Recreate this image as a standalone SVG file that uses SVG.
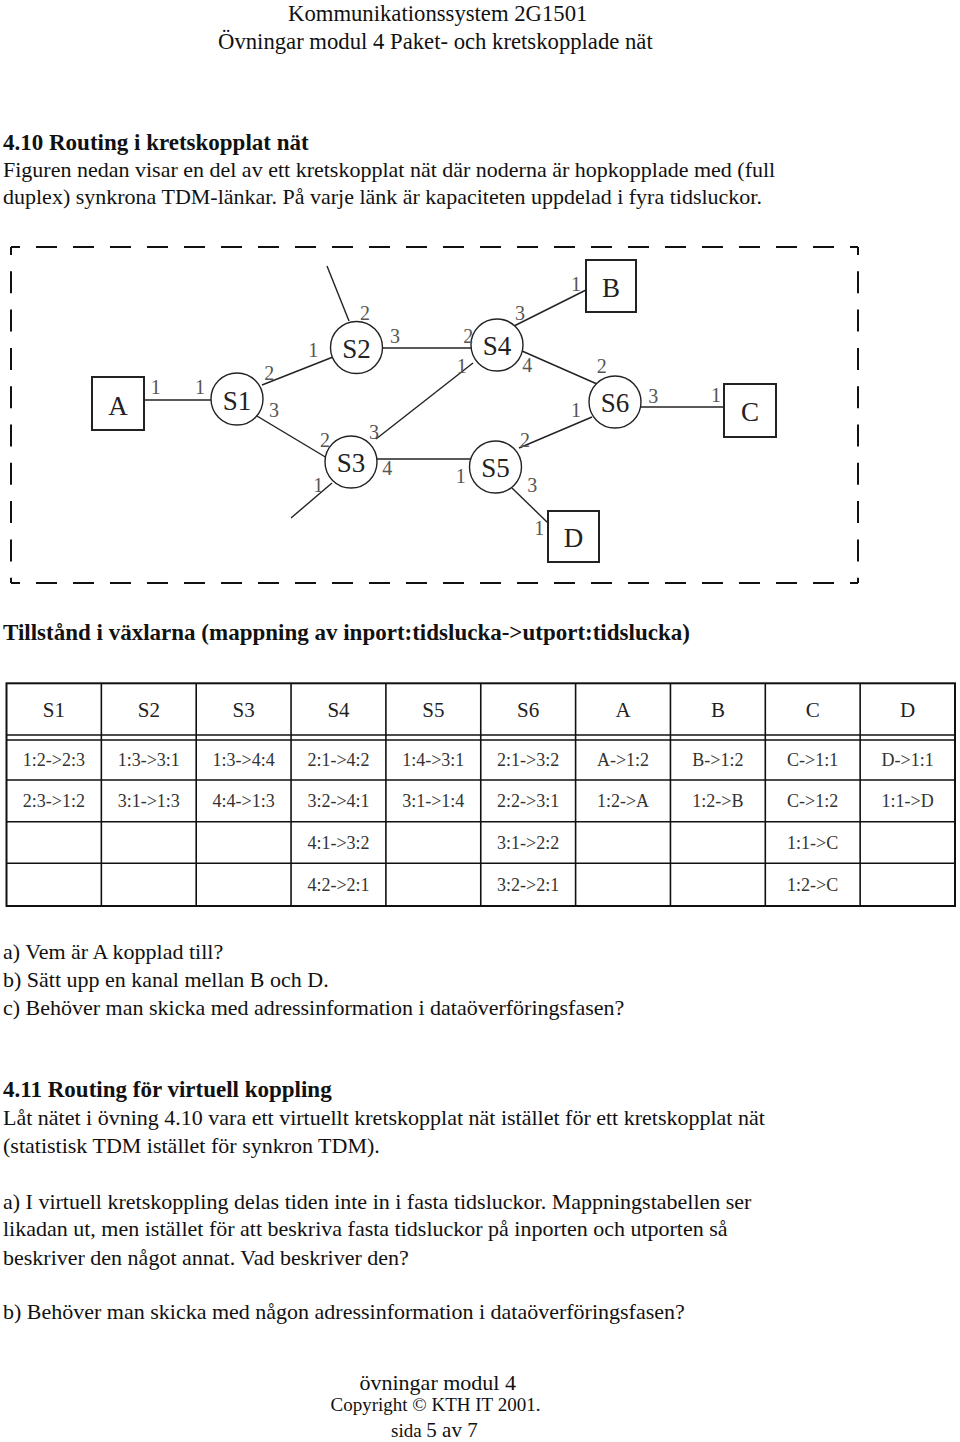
<svg xmlns="http://www.w3.org/2000/svg" width="960" height="1442" viewBox="0 0 960 1442">
<style>
.t{font-family:"Liberation Serif","Times New Roman",serif;fill:#111}
.body{font-size:22px}
.hdr{font-size:22.7px}
.bold{font-size:23px;font-weight:bold}
.node circle{fill:#fff;stroke:#222;stroke-width:1.4}
.node rect{fill:#fff;stroke:#222;stroke-width:2}
.nl{font-family:"Liberation Serif","Times New Roman",serif;font-size:27px;fill:#222;text-anchor:middle}
.port{font-family:"Liberation Serif","Times New Roman",serif;font-size:20px;fill:#555;text-anchor:middle}
.link{stroke:#222;stroke-width:1.4;fill:none}
.frameh{stroke:#111;stroke-width:2;stroke-dasharray:21 16;stroke-dashoffset:12;fill:none}
.framev{stroke:#111;stroke-width:2;stroke-dasharray:22 16.3;stroke-dashoffset:14;fill:none}
.tl{stroke:#111;stroke-width:1.6}
.th{font-family:"Liberation Serif","Times New Roman",serif;font-size:21px;fill:#222;text-anchor:middle}
.td{font-family:"Liberation Serif","Times New Roman",serif;font-size:18px;fill:#333;text-anchor:middle}
</style>
<rect width="960" height="1442" fill="#fff"/>

<g id="header">
<text class="t hdr" x="288" y="21">Kommunikationssystem 2G1501</text>
<text class="t hdr" x="218" y="49">Övningar modul 4 Paket- och kretskopplade nät</text>
</g>

<g id="intro">
<text class="t bold" x="3" y="150">4.10 Routing i kretskopplat nät</text>
<text class="t body" x="3" y="177">Figuren nedan visar en del av ett kretskopplat nät där noderna är hopkopplade med (full</text>
<text class="t body" x="3" y="204">duplex) synkrona TDM-länkar. På varje länk är kapaciteten uppdelad i  fyra tidsluckor.</text>
</g>

<g id="frame">
<line class="frameh" x1="11" y1="247" x2="858" y2="247"/>
<line class="frameh" x1="11" y1="583" x2="858" y2="583"/>
<line class="framev" x1="11" y1="247" x2="11" y2="583"/>
<line class="framev" x1="858" y1="247" x2="858" y2="583"/>
</g>

<g id="connectors">
<line class="link" x1="144" y1="400" x2="211" y2="400"/>
<line class="link" x1="262" y1="385" x2="333" y2="357"/>
<line class="link" x1="252" y1="413" x2="327" y2="458"/>
<line class="link" x1="327" y1="266" x2="349" y2="321"/>
<line class="link" x1="383" y1="348" x2="471" y2="348"/>
<line class="link" x1="376" y1="439" x2="473" y2="363"/>
<line class="link" x1="332" y1="483" x2="291" y2="518"/>
<line class="link" x1="377" y1="459" x2="470" y2="459"/>
<line class="link" x1="514" y1="326" x2="586" y2="290"/>
<line class="link" x1="522" y1="351" x2="597" y2="384"/>
<line class="link" x1="640" y1="407" x2="724" y2="407"/>
<line class="link" x1="519" y1="448" x2="592" y2="417"/>
<line class="link" x1="512" y1="488" x2="548" y2="523"/>
</g>

<g id="node-A" class="node"><rect x="92" y="377" width="52" height="53"/><text class="nl" x="118" y="415">A</text></g>
<g id="node-B" class="node"><rect x="586" y="260" width="50" height="52"/><text class="nl" x="611" y="297">B</text></g>
<g id="node-C" class="node"><rect x="724" y="384" width="52" height="53"/><text class="nl" x="750" y="421">C</text></g>
<g id="node-D" class="node"><rect x="548" y="511" width="51" height="51"/><text class="nl" x="573.5" y="547">D</text></g>
<g id="node-S1" class="node"><circle cx="237" cy="399" r="26"/><text class="nl" x="237" y="409.5">S1</text></g>
<g id="node-S2" class="node"><circle cx="356.5" cy="347.5" r="26"/><text class="nl" x="356.5" y="357.5">S2</text></g>
<g id="node-S3" class="node"><circle cx="351" cy="462" r="26"/><text class="nl" x="351" y="472">S3</text></g>
<g id="node-S4" class="node"><circle cx="497" cy="345" r="26"/><text class="nl" x="497" y="355">S4</text></g>
<g id="node-S5" class="node"><circle cx="495.5" cy="467" r="26"/><text class="nl" x="495.5" y="477">S5</text></g>
<g id="node-S6" class="node"><circle cx="615" cy="402" r="26"/><text class="nl" x="615" y="412">S6</text></g>

<g id="ports">
<text class="port" x="155.7" y="394">1</text>
<text class="port" x="200" y="394">1</text>
<text class="port" x="269.3" y="380">2</text>
<text class="port" x="274" y="416.7">3</text>
<text class="port" x="313.3" y="357.3">1</text>
<text class="port" x="365" y="320">2</text>
<text class="port" x="395" y="342.7">3</text>
<text class="port" x="325" y="446.7">2</text>
<text class="port" x="374" y="439.3">3</text>
<text class="port" x="387.3" y="475">4</text>
<text class="port" x="318.3" y="491.7">1</text>
<text class="port" x="468.3" y="342.7">2</text>
<text class="port" x="461.7" y="372.7">1</text>
<text class="port" x="520" y="320">3</text>
<text class="port" x="527.3" y="371.7">4</text>
<text class="port" x="576" y="290.7">1</text>
<text class="port" x="601.7" y="373.3">2</text>
<text class="port" x="576" y="416.7">1</text>
<text class="port" x="653.3" y="403.3">3</text>
<text class="port" x="716" y="401.7">1</text>
<text class="port" x="525" y="446.7">2</text>
<text class="port" x="460.7" y="483.3">1</text>
<text class="port" x="532.3" y="492.3">3</text>
<text class="port" x="539.3" y="535">1</text>
</g>

<text class="t bold" x="3" y="640">Tillstånd i växlarna (mappning av inport:tidslucka-&gt;utport:tidslucka)</text>

<g id="table">
<rect x="6.5" y="683.3" width="948.5" height="222.7" fill="none" stroke="#111" stroke-width="2"/>
<line class="tl" x1="6.5" y1="735" x2="955" y2="735"/>
<line class="tl" x1="6.5" y1="740" x2="955" y2="740"/>
<line class="tl" x1="6.5" y1="780" x2="955" y2="780"/>
<line class="tl" x1="6.5" y1="821.7" x2="955" y2="821.7"/>
<line class="tl" x1="6.5" y1="863.3" x2="955" y2="863.3"/>
<line class="tl" x1="101.35" y1="683.3" x2="101.35" y2="906"/>
<line class="tl" x1="196.2" y1="683.3" x2="196.2" y2="906"/>
<line class="tl" x1="291.05" y1="683.3" x2="291.05" y2="906"/>
<line class="tl" x1="385.9" y1="683.3" x2="385.9" y2="906"/>
<line class="tl" x1="480.75" y1="683.3" x2="480.75" y2="906"/>
<line class="tl" x1="575.6" y1="683.3" x2="575.6" y2="906"/>
<line class="tl" x1="670.45" y1="683.3" x2="670.45" y2="906"/>
<line class="tl" x1="765.3" y1="683.3" x2="765.3" y2="906"/>
<line class="tl" x1="860.15" y1="683.3" x2="860.15" y2="906"/>
<text class="th" x="53.9" y="716.5">S1</text>
<text class="th" x="148.8" y="716.5">S2</text>
<text class="th" x="243.6" y="716.5">S3</text>
<text class="th" x="338.5" y="716.5">S4</text>
<text class="th" x="433.3" y="716.5">S5</text>
<text class="th" x="528.2" y="716.5">S6</text>
<text class="th" x="623" y="716.5">A</text>
<text class="th" x="717.9" y="716.5">B</text>
<text class="th" x="812.7" y="716.5">C</text>
<text class="th" x="907.6" y="716.5">D</text>
<text class="td" x="53.9" y="766">1:2-&gt;2:3</text>
<text class="td" x="53.9" y="807">2:3-&gt;1:2</text>
<text class="td" x="148.8" y="766">1:3-&gt;3:1</text>
<text class="td" x="148.8" y="807">3:1-&gt;1:3</text>
<text class="td" x="243.6" y="766">1:3-&gt;4:4</text>
<text class="td" x="243.6" y="807">4:4-&gt;1:3</text>
<text class="td" x="338.5" y="766">2:1-&gt;4:2</text>
<text class="td" x="338.5" y="807">3:2-&gt;4:1</text>
<text class="td" x="338.5" y="848.5">4:1-&gt;3:2</text>
<text class="td" x="338.5" y="890.5">4:2-&gt;2:1</text>
<text class="td" x="433.3" y="766">1:4-&gt;3:1</text>
<text class="td" x="433.3" y="807">3:1-&gt;1:4</text>
<text class="td" x="528.2" y="766">2:1-&gt;3:2</text>
<text class="td" x="528.2" y="807">2:2-&gt;3:1</text>
<text class="td" x="528.2" y="848.5">3:1-&gt;2:2</text>
<text class="td" x="528.2" y="890.5">3:2-&gt;2:1</text>
<text class="td" x="623" y="766">A-&gt;1:2</text>
<text class="td" x="623" y="807">1:2-&gt;A</text>
<text class="td" x="717.9" y="766">B-&gt;1:2</text>
<text class="td" x="717.9" y="807">1:2-&gt;B</text>
<text class="td" x="812.7" y="766">C-&gt;1:1</text>
<text class="td" x="812.7" y="807">C-&gt;1:2</text>
<text class="td" x="812.7" y="848.5">1:1-&gt;C</text>
<text class="td" x="812.7" y="890.5">1:2-&gt;C</text>
<text class="td" x="907.6" y="766">D-&gt;1:1</text>
<text class="td" x="907.6" y="807">1:1-&gt;D</text>
</g>

<g id="questions">
<text class="t body" x="3" y="959">a) Vem är A kopplad till?</text>
<text class="t body" x="3" y="987">b) Sätt upp en kanal mellan B och D.</text>
<text class="t body" x="3" y="1015">c) Behöver man skicka med adressinformation i dataöverföringsfasen?</text>
<text class="t bold" x="3" y="1097">4.11 Routing för virtuell koppling</text>
<text class="t body" x="3" y="1125">Låt nätet i övning 4.10 vara ett virtuellt kretskopplat nät istället för ett kretskopplat nät</text>
<text class="t body" x="3" y="1153">(statistisk TDM istället för synkron TDM).</text>
<text class="t body" x="3" y="1209">a) I virtuell kretskoppling delas tiden inte in i fasta tidsluckor. Mappningstabellen ser</text>
<text class="t body" x="3" y="1236">likadan ut, men istället för att beskriva fasta tidsluckor på inporten och utporten så</text>
<text class="t body" x="3" y="1265">beskriver den något annat. Vad beskriver den?</text>
<text class="t body" x="3" y="1319">b) Behöver man skicka med någon adressinformation i dataöverföringsfasen?</text>
</g>

<g id="footer">
<text class="t body" x="359.5" y="1390">övningar modul 4</text>
<text class="t" x="330.5" y="1411" font-size="19">Copyright © KTH IT 2001.</text>
<text class="t" x="391" y="1437"><tspan font-size="19">sida </tspan><tspan font-size="21">5 av 7</tspan></text>
</g>
</svg>
